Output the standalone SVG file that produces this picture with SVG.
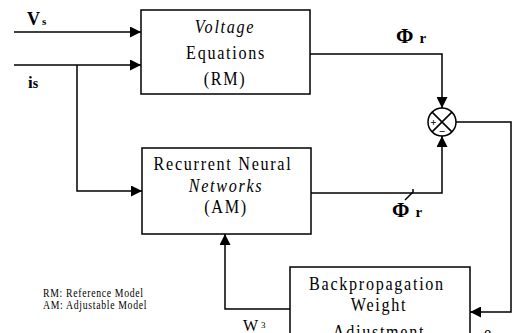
<svg xmlns="http://www.w3.org/2000/svg" width="520" height="333" viewBox="0 0 520 333">
<style>
.box{fill:#fff;stroke:#000;stroke-width:1.5}
.ln{fill:none;stroke:#000;stroke-width:1.5}
.bt{font-family:"Liberation Serif","Times New Roman",serif;font-size:19px;letter-spacing:2px;text-anchor:middle;fill:#000}
.it{font-style:italic}
.lg{font-family:"Liberation Serif","Times New Roman",serif;font-size:11.5px;letter-spacing:0.8px;fill:#000}
.sym{font-family:"Liberation Serif","Times New Roman",serif;font-weight:bold;fill:#000}
</style>
<defs>
<marker id="ah" viewBox="0 0 10 10" refX="10" refY="5" markerWidth="11" markerHeight="11" markerUnits="userSpaceOnUse" orient="auto">
<path d="M0,0 L10,5 L0,10 Z" fill="#000"/>
</marker>
</defs>
<rect width="520" height="333" fill="#fff"/>
<g id="connectors">
<path class="ln" d="M14,32 H141" marker-end="url(#ah)"/>
<path class="ln" d="M14,65 H141" marker-end="url(#ah)"/>
<path class="ln" d="M77,65 V191 H142" marker-end="url(#ah)"/>
<path class="ln" d="M310,54 H442 V108" marker-end="url(#ah)"/>
<path class="ln" d="M311,193 H442 V136" marker-end="url(#ah)"/>
<path class="ln" d="M456,122 H511 V312 H470" marker-end="url(#ah)"/>
<path class="ln" d="M290,309 H225 V234" marker-end="url(#ah)"/>
<path class="ln" d="M405,200 L413,192 V189" stroke-width="1.2"/>
</g>
<g id="voltage-equations">
<rect class="box" x="141" y="10" width="169" height="84"/>
<text class="bt it" transform="translate(225,33) scale(0.85,1)">Voltage</text>
<text class="bt" transform="translate(226,59) scale(0.85,1)">Equations</text>
<text class="bt" transform="translate(225,85) scale(0.85,1)">(RM)</text>
</g>
<g id="recurrent-nn">
<rect class="box" x="142" y="148" width="169" height="86"/>
<text class="bt" transform="translate(223,170) scale(0.85,1)">Recurrent Neural</text>
<text class="bt it" transform="translate(226,192) scale(0.85,1)">Networks</text>
<text class="bt" transform="translate(226,213) scale(0.85,1)">(AM)</text>
</g>
<g id="backprop">
<rect class="box" x="290" y="267" width="180" height="80"/>
<text class="bt" transform="translate(377,290) scale(0.85,1)">Backpropagation</text>
<text class="bt" transform="translate(379,311) scale(0.85,1)">Weight</text>
<text class="bt" transform="translate(379,338) scale(0.85,1)">Adjustment</text>
</g>
<g id="summer">
<circle cx="442" cy="122" r="14" fill="#fff" stroke="#000" stroke-width="1.5"/>
<path class="ln" d="M432.1,112.1 L451.9,131.9 M451.9,112.1 L432.1,131.9" stroke-width="1.3"/>
<text class="sym" x="433.5" y="126" font-size="11" text-anchor="middle">+</text>
<text class="sym" x="442" y="135" font-size="11" text-anchor="middle">−</text>
</g>
<g id="labels">
<text class="sym" x="27" y="25" font-size="18">V<tspan font-size="11" dx="2">s</tspan></text>
<text class="sym" x="28" y="88" font-size="17">i<tspan font-size="14">s</tspan></text>
<text class="sym" x="396" y="43" font-size="21">Φ<tspan font-size="15" dx="6">r</tspan></text>
<text class="sym" x="392" y="217" font-size="21">Φ<tspan font-size="15" dx="6">r</tspan></text>
<text x="243" y="331" font-family="Liberation Serif,serif" font-size="16">W<tspan font-size="9" dx="3" dy="-3">3</tspan></text>
<text x="484" y="338" font-family="Liberation Serif,serif" font-size="16">e</text>
<text class="lg" transform="translate(43,297) scale(0.85,1)">RM: Reference Model</text>
<text class="lg" transform="translate(43,309) scale(0.85,1)">AM: Adjustable Model</text>
</g>
</svg>
